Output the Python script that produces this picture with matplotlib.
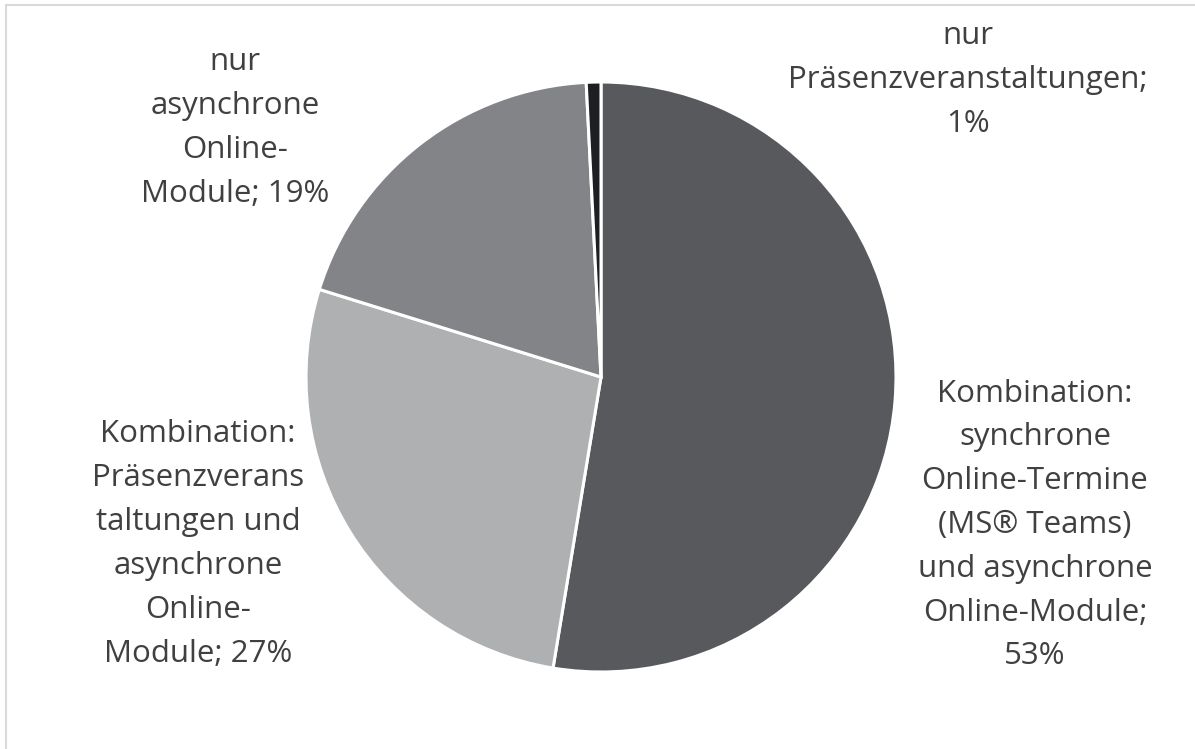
import matplotlib.pyplot as plt
from matplotlib.patches import Rectangle

# slices, clockwise from 12 o'clock
labels = [
    'Kombination:\nsynchrone\nOnline-Termine\n(MS® Teams)\nund asynchrone\nOnline-Module;\n53%',
    'Kombination:\nPräsenzverans\ntaltungen und\nasynchrone\nOnline-\nModule; 27%',
    'nur\nasynchrone\nOnline-\nModule; 19%',
    'nur\nPräsenzveranstaltungen;\n1%',
]
shares = [52.6, 27.2, 19.4, 0.8]
colors = ['#58595d', '#afb0b2', '#838487', '#1d1f23']

W, H = 1195, 749
fig = plt.figure(figsize=(W / 100, H / 100), dpi=100)
ax = fig.add_axes([0, 0, 1, 1])

ax.pie(shares, colors=colors, startangle=90, counterclock=False,
       center=(601, H - 377), radius=295, frame=True,
       wedgeprops=dict(edgecolor='white', linewidth=2.2))

ax.set_xlim(0, W)
ax.set_ylim(0, H)
ax.set_aspect('equal')
ax.axis('off')

# chart area border (top and left visible)
ax.add_patch(Rectangle((6, -20), W + 40, H - 5 + 20, fill=False,
                       edgecolor='#d9d9d9', linewidth=1.5, clip_on=False))

label_pos = [(1035, H - 525), (198, H - 544), (235, H - 128), (968, H - 80)]
for text, (x, y) in zip(labels, label_pos):
    ax.text(x, y, text, ha='center', va='center', multialignment='center',
            fontsize=22.5, family='Open Sans', color='#404040', linespacing=1.6)

fig.savefig('out.png', dpi=100)
